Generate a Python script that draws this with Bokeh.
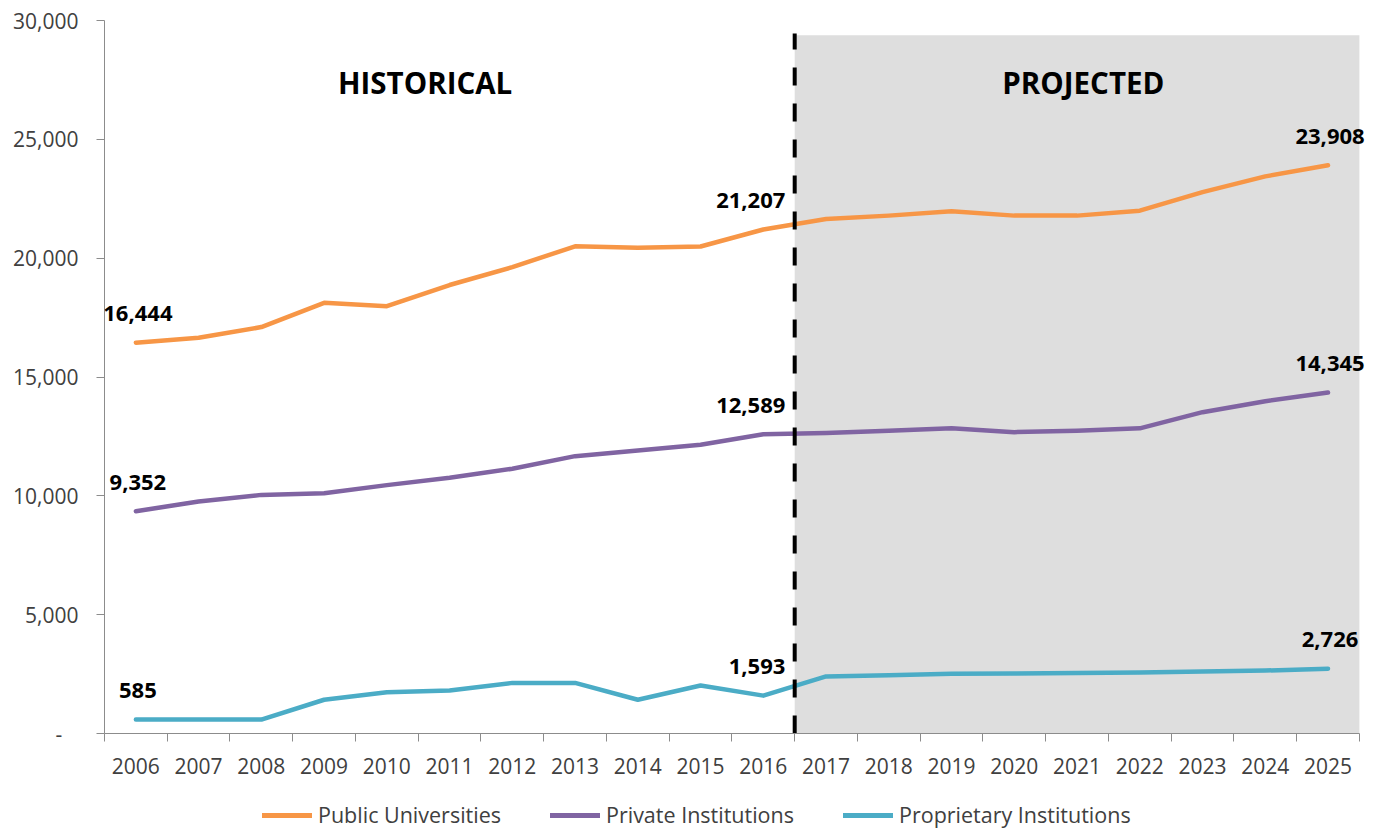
from bokeh.plotting import figure
from bokeh.layouts import column
from bokeh.models import (FixedTicker, NumeralTickFormatter, BoxAnnotation, Label,
                          Legend, LegendItem)
from bokeh.embed import file_html
from bokeh.resources import INLINE

# ---------------- data ----------------
years = ["2006", "2007", "2008", "2009", "2010", "2011", "2012", "2013", "2014", "2015",
         "2016", "2017", "2018", "2019", "2020", "2021", "2022", "2023", "2024", "2025"]
public = [16444, 16650, 17100, 18120, 17980, 18870, 19620, 20500, 20440, 20490,
          21207, 21650, 21790, 21970, 21790, 21790, 22000, 22780, 23440, 23908]
private = [9352, 9760, 10040, 10110, 10450, 10760, 11140, 11670, 11910, 12150,
           12589, 12640, 12740, 12840, 12680, 12740, 12840, 13520, 13980, 14345]
proprietary = [585, 585, 585, 1420, 1740, 1810, 2130, 2130, 1420, 2020,
               1593, 2400, 2450, 2510, 2520, 2550, 2570, 2610, 2650, 2726]
series_names = ["Public Universities", "Private Institutions", "Proprietary Institutions"]
series_colors = ["#F79646", "#8064A2", "#4BACC6"]
y_ticks = [0, 5000, 10000, 15000, 20000, 25000, 30000]
last_historical = "2016"
section_titles = ["HISTORICAL", "PROJECTED"]

FONT = "Open Sans"
AXIS_GRAY = "#8C8C8C"
TEXT_GRAY = "#404040"

idx = list(range(len(years)))
split = years.index(last_historical) + 0.5
x_lo, x_end = -0.5, len(years) - 0.5
x_hi = x_end + 0.145          # small room on the right so end labels are not clipped

W = 1370
p = figure(width=W, height=789, output_backend="svg", toolbar_location=None,
           x_range=(x_lo, x_hi), y_range=(0, 30000),
           min_border_left=104, min_border_right=2, min_border_top=20, min_border_bottom=56)
p.outline_line_color = None
p.grid.visible = False
p.background_fill_color = "white"
p.border_fill_color = "white"

# projected shading
p.add_layout(BoxAnnotation(left=split, right=x_end, bottom=0, top=29380,
                           fill_color="#DEDEDE", fill_alpha=1.0, line_color=None,
                           level="underlay"))

all_series = [public, private, proprietary]
for name, vals, col in zip(series_names, all_series, series_colors):
    p.line(idx, vals, line_color=col, line_width=4.5, line_cap="round", line_join="round")

# divider dashed line
p.segment(x0=[split], y0=[0], x1=[split], y1=[29450], line_color="black",
          line_width=4, line_dash="18 18")

# x axis
xa = p.xaxis[0]
xa.bounds = (x_lo, x_end)
xa.ticker = FixedTicker(ticks=idx, minor_ticks=[i - 0.5 for i in range(len(years) + 1)])
xa.major_label_overrides = {i: y for i, y in enumerate(years)}
xa.major_tick_line_color = None
xa.major_tick_in = 0
xa.major_tick_out = 8
xa.minor_tick_in = 0
xa.minor_tick_out = 8
xa.minor_tick_line_color = AXIS_GRAY
xa.axis_line_color = AXIS_GRAY
xa.major_label_text_font = FONT
xa.major_label_text_font_size = "21px"
xa.major_label_text_color = TEXT_GRAY
xa.major_label_standoff = 16

# y axis
ya = p.yaxis[0]
ya.ticker = FixedTicker(ticks=y_ticks)
ya.formatter = NumeralTickFormatter(format="0,0")
ya.major_label_overrides = {0: "-\u00a0\u00a0\u00a0"}
ya.major_tick_in = 0
ya.major_tick_out = 8
ya.major_tick_line_color = AXIS_GRAY
ya.minor_tick_line_color = None
ya.axis_line_color = AXIS_GRAY
ya.major_label_text_font = FONT
ya.major_label_text_font_size = "21px"
ya.major_label_text_color = TEXT_GRAY
ya.major_label_standoff = 18

# data labels
split_i = years.index(last_historical)
for vals in all_series:
    for i, align, xoff in [(0, "center", 2), (split_i, "right", 22), (len(years) - 1, "center", 2)]:
        p.add_layout(Label(x=i, y=vals[i], text=f"{vals[i]:,}", text_align=align,
                           text_baseline="alphabetic", x_offset=xoff, y_offset=29,
                           text_font=FONT, text_font_style="bold", text_font_size="22px",
                           text_color="#000000"))

# section titles
for title, xc in zip(section_titles, [4.61, 15.1]):
    p.add_layout(Label(x=xc, y=27400, text=title, text_align="center",
                       text_baseline="alphabetic", text_font=FONT, text_font_style="bold",
                       text_font_size="29.5px", text_color="#000000"))

# legend strip below the chart (series drawn out of view, only the legend shows)
pl = figure(width=W, height=40, output_backend="svg", toolbar_location=None,
            x_range=(x_lo, x_hi), y_range=(-200, -100), min_border=0)
pl.axis.visible = False
pl.grid.visible = False
pl.outline_line_color = None
leg_renderers = [pl.line(idx, vals, line_color=col, line_width=5, line_cap="round")
                 for vals, col in zip(all_series, series_colors)]
legend = Legend(items=[LegendItem(label=n, renderers=[r]) for n, r in zip(series_names, leg_renderers)],
                orientation="horizontal", location=(158, 0), glyph_width=50, glyph_height=20,
                label_standoff=6, spacing=49, padding=0, margin=0, border_line_color=None,
                background_fill_alpha=0, label_text_font=FONT, label_text_font_size="21.5px",
                label_text_color=TEXT_GRAY)
pl.add_layout(legend)

layout = column(p, pl, spacing=0)
open("out.html", "w").write(file_html(layout, INLINE))
